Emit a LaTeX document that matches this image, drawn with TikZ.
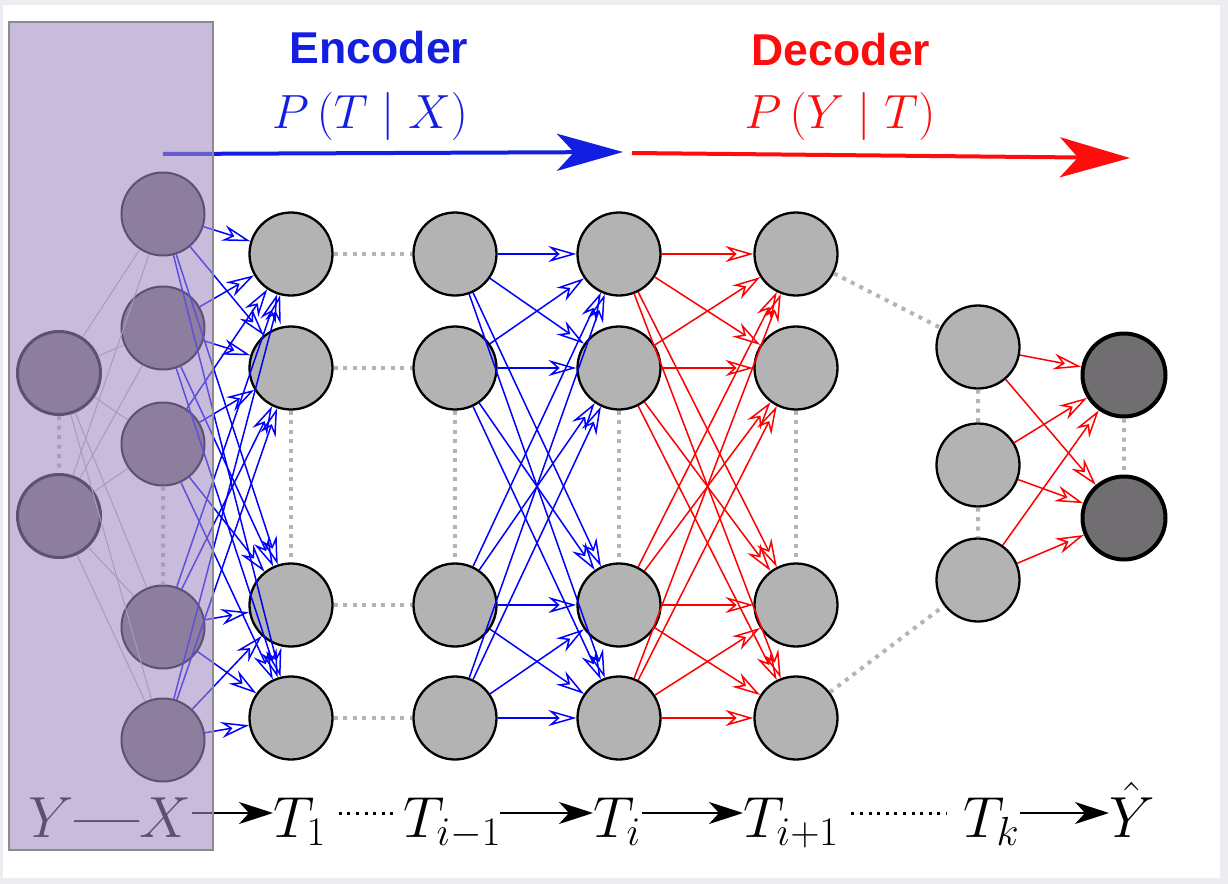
\RequirePackage{fix-cm}
\documentclass[tikz,border=0pt]{standalone}
\usepackage{amsmath}
\usepackage{fontspec}
\newfontfamily\headfont{Liberation Sans}
\usepackage{tikz}
\usetikzlibrary{positioning,arrows.meta}

\definecolor{hidgray}{RGB}{179,179,179}
\definecolor{outgray}{RGB}{112,110,112}
\definecolor{boxpurple}{RGB}{162,138,193}
\definecolor{boxedge}{RGB}{140,140,140}
\definecolor{dotgray}{RGB}{180,180,180}
\definecolor{encblue}{RGB}{20,30,225}
\definecolor{decred}{RGB}{255,12,12}
\definecolor{framegray}{RGB}{236,236,241}

\tikzset{
  hidnode/.style={circle,draw,line width=1.15pt,fill=hidgray,minimum size=41.5pt,inner sep=0pt},
  outnode/.style={hidnode,fill=outgray,line width=2pt},
  innode/.style={hidnode,fill=outgray,line width=1pt},
  encedge/.style={blue,line width=0.75pt,-{Stealth[open,length=14pt,width=8pt,inset=4.5pt]}},
  decedge/.style={encedge,red},
  inlink/.style={gray!60,line width=0.5pt},
  gapline/.style={dotgray,line width=2pt,dash pattern=on 2pt off 2.75pt},
  flowarrow/.style={line width=1pt,-{Stealth[length=17pt,width=11pt,inset=5pt]}},
  flowdots/.style={line width=1.5pt,dash pattern=on 1.5pt off 2.8pt},
  seqlabel/.style={inner sep=0pt,font=\fontsize{29}{34}\selectfont},
  headlabel/.style={inner sep=0pt,anchor=base,font=\headfont\bfseries\fontsize{22.3}{26}\selectfont},
  problabel/.style={inner sep=0pt,anchor=base,font=\fontsize{24}{28}\selectfont}
}

\begin{document}
\begin{tikzpicture}[x=0.5pt,y=-0.5pt,on grid]
\useasboundingbox (0,0) rectangle (1228,884);
\fill[framegray] (0,0) rectangle (1228,884);
\fill[white] (3,5) rectangle (1220,878);

% input layer (under the Y--X box)
\node[innode,line width=1.5pt] (y_1) at (59,373) {};
\node[innode,line width=1.5pt] (y_2) [below=71.5pt of y_1] {};
\node[innode] (x_1) at (163,214) {};
\node[innode] (x_2) [below=57pt of x_1] {};
\node[innode] (x_3) [below=58pt of x_2] {};
\node[innode] (x_4) [below=91.5pt of x_3] {};
\node[innode] (x_5) [below=56.5pt of x_4] {};

% hidden layers T_1, T_{i-1}, T_i, T_{i+1}
\node[hidnode] (h1_1) at (291,254) {};
\node[hidnode] (h1_2) [below=57pt of h1_1] {};
\node[hidnode] (h1_3) [below=118.5pt of h1_2] {};
\node[hidnode] (h1_4) [below=56.5pt of h1_3] {};
\foreach \c/\p/\d in {2/1/82pt,3/2/82pt,4/3/88.5pt}
  \foreach \r in {1,...,4}
    \node[hidnode] (h\c_\r) [right=\d of h\p_\r] {};

% T_k and output
\node[hidnode] (hk_1) at (978,347) {};
\node[hidnode] (hk_2) [below=59pt of hk_1] {};
\node[hidnode] (hk_3) [below=57.5pt of hk_2] {};
\node[outnode] (o_1) at (1124,375) {};
\node[outnode] (o_2) [below=71.5pt of o_1] {};

\foreach \i in {1,2} \foreach \j in {1,...,5} \draw[inlink] (y_\i) -- (x_\j);
\foreach \j in {1,...,5} \foreach \r in {1,...,4} \draw[encedge] (x_\j) -- (h1_\r);
\foreach \r in {1,...,4} \foreach \s in {1,...,4} {
  \draw[encedge] (h2_\r) -- (h3_\s);
  \draw[decedge] (h3_\r) -- (h4_\s);
}
\foreach \r in {1,2,3} \foreach \s in {1,2} \draw[decedge] (hk_\r) -- (o_\s);

\foreach \r in {1,...,4} \draw[gapline] (h1_\r) -- (h2_\r);
\foreach \c in {1,...,4} \draw[gapline] (h\c_2) -- (h\c_3);
\draw[gapline] (h4_1) -- (hk_1) (h4_4) -- (hk_3) (hk_1) -- (hk_2) (hk_2) -- (hk_3)
  (o_1) -- (o_2) (y_1) -- (y_2) (x_3) -- (x_4);

% encoder / decoder
\node[headlabel,text=encblue] (enc) at (379,63) {Encoder};
\node[problabel,text=encblue] (penc) at (370,128) {$P\left(T \mid X\right)$};
\node[headlabel,text=decred] (dec) at (841,65) {Decoder};
\node[problabel,text=decred] (pdec) at (840,128) {$P\left(Y \mid T\right)$};
\coordinate (enc_s) at (163,154);
\coordinate (enc_e) at (623,152);
\coordinate (dec_s) at (632,153);
\coordinate (dec_e) at (1130,158);
\draw[encblue,line width=2pt,-{Stealth[length=33pt,width=18.5pt,inset=8.5pt]}] (enc_s) -- (enc_e);
\draw[decred,line width=2pt,-{Stealth[length=35pt,width=20pt,inset=9pt]}] (dec_s) -- (dec_e);

% chain of representations
\node[seqlabel,anchor=base] (yx) at (110,837) {$Y$\textbf{—}$X$};
\node[seqlabel,anchor=base west] (t_1) at (273,837) {$T_1$};
\node[seqlabel,anchor=base west] (t_im) at (403,837) {$T_{i-1}$};
\node[seqlabel,anchor=base west] (t_i) at (593,837) {$T_i$};
\node[seqlabel,anchor=base west] (t_ip) at (743,837) {$T_{i+1}$};
\node[seqlabel,anchor=base west] (t_k) at (963,837) {$T_k$};
\node[seqlabel,anchor=base west] (yhat) at (1109,837) {$\hat{Y}$};
\draw[flowarrow] ([yshift=12pt]yx.base east) -- ([yshift=12pt]t_1.base west);
\draw[flowdots,shorten <=6pt,shorten >=3pt] ([yshift=12pt]t_1.base east) -- ([yshift=12pt]t_im.base west);
\draw[flowarrow] ([xshift=48.5pt,yshift=12pt]t_im.base west) -- ([yshift=12pt]t_i.base west);
\draw[flowarrow] ([yshift=12pt]t_i.base east) -- ([yshift=12pt]t_ip.base west);
\draw[flowdots,shorten <=6pt,shorten >=8pt] ([yshift=12pt]t_ip.base east) -- ([yshift=12pt]t_k.base west);
\draw[flowarrow] ([yshift=12pt]t_k.base east) -- ([yshift=12pt]yhat.base west);

% Y--X box on top
\filldraw[fill=boxpurple,fill opacity=0.58,draw=boxedge,line width=0.75pt] (9,22) rectangle (213,850);
\end{tikzpicture}
\end{document}
